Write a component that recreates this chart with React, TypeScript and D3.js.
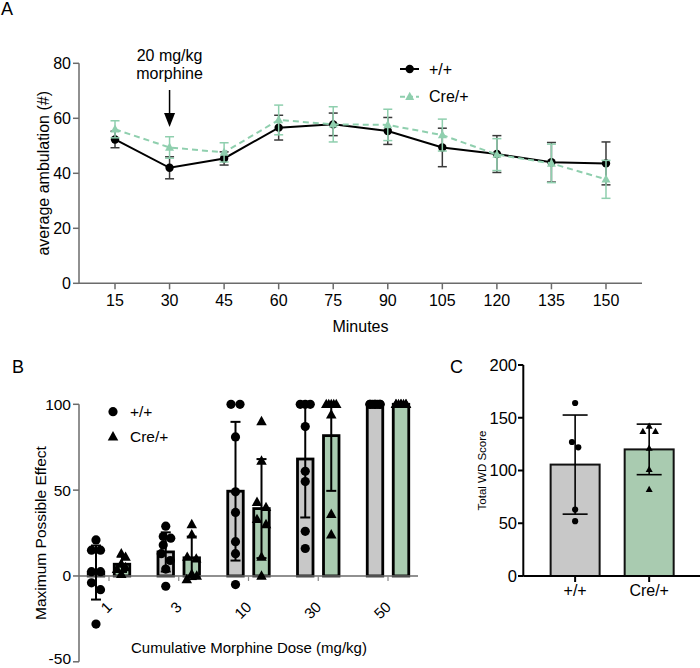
import React from "react";
import * as d3 from "d3";

// ---------- Panel A data ----------
const minutes = [15, 30, 45, 60, 75, 90, 105, 120, 135, 150];
const wtAmbMean = [52.3, 42.0, 45.4, 56.6, 57.8, 55.4, 49.4, 47.0, 44.0, 43.6];
const wtAmbErr = [3.0, 4.0, 2.4, 4.5, 4.1, 4.9, 7.0, 6.7, 7.2, 7.8];
const creAmbMean = [56.0, 49.4, 47.6, 59.4, 57.8, 57.6, 53.9, 46.8, 43.6, 37.8];
const creAmbErr = [3.1, 3.9, 3.5, 5.4, 6.4, 5.7, 5.8, 5.8, 7.0, 6.9];
const ambTicks = [0, 20, 40, 60, 80];

// ---------- Panel B data ----------
const doses = ["1", "3", "10", "30", "50"];
const wtMPE = [
  [21, 15, 15, 2.5, 2.5, -4, -8, -28],
  [29, 23, 22, 18, 13, 9, 4, -6],
  [100, 100, 81, 49, 37, 20, 13, -5],
  [100, 100, 100, 87, 61, 55, 26, 16],
  [100, 100, 100, 100, 100, 100, 100, 100],
];
const creMPE = [
  [13, 11, 7, 5, 4, 1],
  [30, 24, 11, 10, 1, 0, -2],
  [90, 67, 43, 40, 33, 30, 11, 0],
  [100, 100, 100, 100, 100, 94, 36, 24],
  [100, 100, 100, 100, 100, 100, 100, 100],
];
const mpeTicks = [-50, 0, 50, 100];

// ---------- Panel C data ----------
const genotypes = ["+/+", "Cre/+"];
const wdWT = [164, 127, 122, 63, 52];
const wdCre = [142, 137, 137, 121, 101, 82];
const wdTicks = [0, 50, 100, 150, 200];

const FONT = "'Liberation Sans', Arial, Helvetica, sans-serif";
const GREEN_LINE = "#8fcfae";
const GREEN_BAR = "#a9cbb0";
const GRAY_BAR = "#c8c8c8";
const AXIS_GRAY = "#6b6b6b";

// beeswarm-like horizontal spreading
function swarm(values: number[], y: (v: number) => number, step: number, maxOff: number, collide: number, maxHalf: number) {
  const idx = values.map((v, i) => i).sort((a, b) => values[b] - values[a]);
  const placed: { i: number; x: number; y: number }[] = [];
  const cands: number[] = [0];
  for (let k = step; k <= maxOff + 1e-6; k += step) cands.push(k, -k);
  for (const i of idx) {
    const py = y(values[i]);
    let best = cands[0];
    let bestPen = Infinity;
    for (const c of cands) {
      let pen = 0;
      for (const p of placed) {
        const dist = Math.hypot(p.x - c, p.y - py);
        if (dist < collide) pen += collide - dist + 0.001;
      }
      if (pen === 0) { best = c; bestPen = 0; break; }
      if (pen < bestPen - 1e-9) { bestPen = pen; best = c; }
    }
    placed.push({ i, x: best, y: py });
  }
  const n = placed.length;
  const comp = new Array(n).fill(-1);
  let cid = 0;
  for (let a = 0; a < n; a++) {
    if (comp[a] >= 0) continue;
    const stack = [a];
    comp[a] = cid;
    while (stack.length) {
      const u = stack.pop()!;
      for (let b = 0; b < n; b++) {
        if (comp[b] < 0 && Math.abs(placed[u].y - placed[b].y) < collide && Math.abs(placed[u].x - placed[b].x) <= step * 2.2) {
          comp[b] = cid;
          stack.push(b);
        }
      }
    }
    cid++;
  }
  const out = new Array(values.length).fill(0);
  for (let c = 0; c < cid; c++) {
    const members = placed.filter((p, k) => comp[k] === c);
    const m = d3.mean(members, (p) => p.x) || 0;
    const half = d3.max(members, (p) => Math.abs(p.x - m)) || 0;
    const scale = half > maxHalf ? maxHalf / half : 1;
    members.forEach((p) => (out[p.i] = (p.x - m) * scale));
  }
  return out;
}

function tri(cx: number, cy: number, s: number) {
  const h = s * 0.9;
  return `M${cx},${cy - h * 0.6}L${cx + s / 2},${cy + h * 0.4}L${cx - s / 2},${cy + h * 0.4}Z`;
}

export default function App() {
  // ===== Panel A scales =====
  const xA = d3.scalePoint<number>().domain(minutes).range([79, 642]).padding(0.66);
  const yA = d3.scaleLinear().domain([0, 80]).range([283.3, 63.3]);
  const lineA = d3.line<number>().x((d, i) => xA(minutes[i])!).y((d) => yA(d));

  // ===== Panel B scales =====
  const xB = d3.scalePoint<string>().domain(doses).range([79, 418]).padding(0.43);
  const yB = d3.scaleLinear().domain([-50, 100]).range([661.8, 404.3]);
  const barOffB = 13;
  const barWB = 15.5;

  // ===== Panel C scales =====
  const xC = d3.scalePoint<string>().domain(genotypes).range([523.3, 701]).padding(0.7);
  const yC = d3.scaleLinear().domain([0, 200]).range([576, 365]);
  const barWC = 49;

  const clipB = (v: number) => Math.max(-50, Math.min(100, v));

  const errBar = (x: number, y1: number, y2: number, cap: number, color: string, sw: number, key: string, capTop = true) => (
    <g key={key} stroke={color} strokeWidth={sw} fill="none">
      <line x1={x} x2={x} y1={y1} y2={y2} />
      {capTop && <line x1={x - cap / 2} x2={x + cap / 2} y1={y1} y2={y1} />}
      <line x1={x - cap / 2} x2={x + cap / 2} y1={y2} y2={y2} />
    </g>
  );

  const bSeries = [
    { data: wtMPE, fill: GRAY_BAR, off: -barOffB, shape: "circle" },
    { data: creMPE, fill: GREEN_BAR, off: barOffB, shape: "tri" },
  ];

  const cSeries = [
    { data: wdWT, fill: GRAY_BAR, g: genotypes[0], shape: "circle" },
    { data: wdCre, fill: GREEN_BAR, g: genotypes[1], shape: "tri" },
  ];

  return (
    <svg width={700} height={668} style={{ display: "block", position: "absolute", left: 0, top: 0 }} fontFamily={FONT}>
      <rect width={700} height={668} fill="#fff" />

      {/* ================= Panel A ================= */}
      <text x={1} y={15} fontSize={18}>A</text>
      <line x1={79} x2={79} y1={yA(80)} y2={yA(0)} stroke={AXIS_GRAY} strokeWidth={1.5} />
      <line x1={79} x2={642} y1={yA(0)} y2={yA(0)} stroke={AXIS_GRAY} strokeWidth={1.5} />
      {ambTicks.map((t) => (
        <g key={"ya" + t}>
          <line x1={73} x2={79} y1={yA(t)} y2={yA(t)} stroke={AXIS_GRAY} strokeWidth={1.5} />
          <text x={71} y={yA(t)} dy="0.35em" textAnchor="end" fontSize={16}>{t}</text>
        </g>
      ))}
      {minutes.map((m) => (
        <g key={"xa" + m}>
          <line x1={xA(m)} x2={xA(m)} y1={yA(0)} y2={yA(0) + 6} stroke={AXIS_GRAY} strokeWidth={1.5} />
          <text x={xA(m)} y={306} textAnchor="middle" fontSize={16}>{m}</text>
        </g>
      ))}
      <text x={360.5} y={332} textAnchor="middle" fontSize={16}>Minutes</text>
      <text transform={`translate(49,${yA(40)}) rotate(-90)`} textAnchor="middle" fontSize={16}>average ambulation (#)</text>

      {/* annotation */}
      <text x={xA(30)} y={61} textAnchor="middle" fontSize={16}>20 mg/kg</text>
      <text x={xA(30)} y={79} textAnchor="middle" fontSize={16}>morphine</text>
      <line x1={xA(30)} x2={xA(30)} y1={90} y2={114} stroke="#000" strokeWidth={1.5} />
      <path d={`M${xA(30)! - 5.5},113L${xA(30)! + 5.5},113L${xA(30)},127Z`} fill="#000" />

      {/* WT series */}
      {wtAmbMean.map((v, i) =>
        errBar(xA(minutes[i])!, yA(v + wtAmbErr[i]), yA(v - wtAmbErr[i]), 9, "#3a3a3a", 1.5, "ewa" + i)
      )}
      <path d={lineA(wtAmbMean) || ""} fill="none" stroke="#000" strokeWidth={2} />
      {wtAmbMean.map((v, i) => (
        <circle key={"pa" + i} cx={xA(minutes[i])} cy={yA(v)} r={4.2} fill="#000" />
      ))}
      {/* Cre series */}
      {creAmbMean.map((v, i) =>
        errBar(xA(minutes[i])!, yA(v + creAmbErr[i]), yA(v - creAmbErr[i]), 9, GREEN_LINE, 1.5, "eca" + i)
      )}
      <path d={lineA(creAmbMean) || ""} fill="none" stroke={GREEN_LINE} strokeWidth={2} strokeDasharray="6,4" />
      {creAmbMean.map((v, i) => (
        <path key={"ta" + i} d={tri(xA(minutes[i])!, yA(v), 9)} fill={GREEN_LINE} />
      ))}

      {/* legend A */}
      <line x1={400} x2={419} y1={69} y2={69} stroke="#000" strokeWidth={2} />
      <circle cx={409.7} cy={69} r={4.2} fill="#000" />
      <text x={429} y={69} dy="0.35em" fontSize={16}>+/+</text>
      <line x1={400} x2={419} y1={96.7} y2={96.7} stroke={GREEN_LINE} strokeWidth={2} strokeDasharray="5,3" />
      <path d={tri(409.7, 96.7, 9)} fill={GREEN_LINE} />
      <text x={429} y={96.7} dy="0.35em" fontSize={16}>Cre/+</text>

      {/* ================= Panel B ================= */}
      <text x={12} y={373} fontSize={18}>B</text>
      <line x1={79} x2={79} y1={yB(100)} y2={yB(-50)} stroke={AXIS_GRAY} strokeWidth={1.5} />
      {mpeTicks.map((t) => (
        <g key={"yb" + t}>
          <line x1={73} x2={79} y1={yB(t)} y2={yB(t)} stroke={AXIS_GRAY} strokeWidth={1.5} />
          <text x={71} y={Math.min(yB(t), 659)} dy="0.35em" textAnchor="end" fontSize={15.5}>{t}</text>
        </g>
      ))}
      <text transform={`translate(46,${yB(25)}) rotate(-90)`} textAnchor="middle" fontSize={15.5}>Maximum Possible Effect</text>
      <text x={249} y={653} textAnchor="middle" fontSize={15}>Cumulative Morphine Dose (mg/kg)</text>

      {/* bars */}
      {bSeries.map((s, si) =>
        s.data.map((vals, gi) => {
          const m = d3.mean(vals)!;
          const cx = xB(doses[gi])! + s.off;
          return (
            <rect key={"bb" + si + gi} x={cx - barWB / 2} width={barWB}
              y={Math.min(yB(m), yB(0))} height={Math.abs(yB(0) - yB(m))}
              fill={s.fill} stroke="#000" strokeWidth={2.8} />
          );
        })
      )}
      <line x1={79} x2={418} y1={yB(0)} y2={yB(0)} stroke={AXIS_GRAY} strokeWidth={1.5} />
      {doses.map((d) => (
        <g key={"xb" + d}>
          <line x1={xB(d)} x2={xB(d)} y1={yB(0)} y2={yB(0) + 5} stroke="#888" strokeWidth={1.2} />
          <text transform={`translate(${xB(d)! + 4},608) rotate(-45)`} textAnchor="end" fontSize={15}>{d}</text>
        </g>
      ))}
      {bSeries.map((s, si) =>
        s.data.map((vals, gi) => {
          const m = d3.mean(vals)!;
          const sd = d3.deviation(vals) || 0;
          if (sd === 0) return null;
          const cx = xB(doses[gi])! + s.off;
          const hi = m + sd;
          return errBar(cx, yB(clipB(hi)), yB(clipB(m - sd)), 10, "#000", 2, "eb" + si + gi, hi <= 100);
        })
      )}
      {bSeries.map((s, si) =>
        s.data.map((vals, gi) => {
          const offs = swarm(vals, yB, 4.5, 9, 8.5, 5);
          const cx = xB(doses[gi])! + s.off;
          return vals.map((v, k) =>
            s.shape === "circle" ? (
              <circle key={`pb${si}-${gi}-${k}`} cx={cx + offs[k]} cy={yB(v)} r={4.6} fill="#000" />
            ) : (
              <path key={`pb${si}-${gi}-${k}`} d={tri(cx + offs[k], yB(v), 10.5)} fill="#000" />
            )
          );
        })
      )}
      {/* legend B */}
      <circle cx={113} cy={411.7} r={4.6} fill="#000" />
      <text x={130} y={411.7} dy="0.35em" fontSize={15.5}>+/+</text>
      <path d={tri(113, 436.7, 10.5)} fill="#000" />
      <text x={130} y={436.7} dy="0.35em" fontSize={15.5}>Cre/+</text>

      {/* ================= Panel C ================= */}
      <text x={450} y={373} fontSize={18}>C</text>
      {cSeries.map((s, si) => {
        const m = d3.mean(s.data)!;
        const cx = xC(s.g)!;
        return (
          <rect key={"cb" + si} x={cx - barWC / 2} width={barWC} y={yC(m)} height={yC(0) - yC(m)}
            fill={s.fill} stroke="#111" strokeWidth={2} />
        );
      })}
      <line x1={523.3} x2={523.3} y1={yC(200)} y2={yC(0)} stroke="#000" strokeWidth={2} />
      <line x1={523.3} x2={700} y1={yC(0)} y2={yC(0)} stroke="#000" strokeWidth={2} />
      {wdTicks.map((t) => (
        <g key={"yc" + t}>
          <line x1={518} x2={523.3} y1={yC(t)} y2={yC(t)} stroke="#000" strokeWidth={2} />
          <text x={517} y={yC(t)} dy="0.35em" textAnchor="end" fontSize={16.5}>{t}</text>
        </g>
      ))}
      <text transform={`translate(485.5,${yC(100)}) rotate(-90)`} textAnchor="middle" fontSize={11.5}>Total WD Score</text>
      {genotypes.map((g) => (
        <g key={"xc" + g}>
          <line x1={xC(g)} x2={xC(g)} y1={yC(0)} y2={yC(0) + 6} stroke="#000" strokeWidth={2} />
          <text x={xC(g)} y={596} textAnchor="middle" fontSize={16}>{g}</text>
        </g>
      ))}
      {cSeries.map((s, si) => {
        const m = d3.mean(s.data)!;
        const sd = d3.deviation(s.data) || 0;
        return errBar(xC(s.g)!, yC(m + sd), yC(m - sd), 25, "#000", 1.6, "ec" + si);
      })}
      {cSeries.map((s, si) => {
        const offs = swarm(s.data, yC, 6.3, 6.3, 6, 7);
        const cx = xC(s.g)!;
        return s.data.map((v, k) =>
          s.shape === "circle" ? (
            <circle key={`pc${si}-${k}`} cx={cx + offs[k]} cy={yC(v)} r={3.1} fill="#000" />
          ) : (
            <path key={`pc${si}-${k}`} d={tri(cx + offs[k], yC(v), 7)} fill="#000" />
          )
        );
      })}
    </svg>
  );
}
